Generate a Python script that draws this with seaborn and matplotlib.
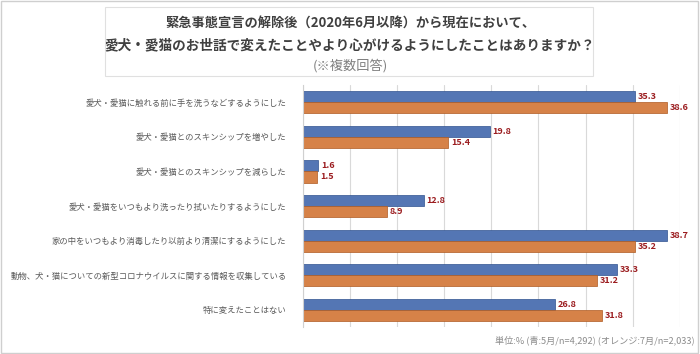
from matplotlib import pyplot as plt
from matplotlib.patches import Rectangle
import pandas as pd
import seaborn as sns

# data (percent)
items = ["愛犬・愛猫に触れる前に手を洗うなどするようにした",
         "愛犬・愛猫とのスキンシップを増やした",
         "愛犬・愛猫とのスキンシップを減らした",
         "愛犬・愛猫をいつもより洗ったり拭いたりするようにした",
         "家の中をいつもより消毒したり以前より清潔にするようにした",
         "動物、犬・猫についての新型コロナウイルスに関する情報を収集している",
         "特に変えたことはない"]
may = [35.3, 19.8, 1.6, 12.8, 38.7, 33.3, 26.8]
jul = [38.6, 15.4, 1.5, 8.9, 35.2, 31.2, 31.8]
months = ["5月", "7月"]

df = pd.DataFrame({"item": items * 2,
                   "value": may + jul,
                   "month": [months[0]] * len(items) + [months[1]] * len(items)})

sns.set_style("white")
plt.rcParams["font.family"] = ["Noto Sans CJK JP", "DejaVu Sans"]

blue = "#4472C4"
orange = "#ED7D31"

fig = plt.figure(figsize=(7, 3.54), dpi=100)
ax = fig.add_axes([0.433, 0.076, 0.538, 0.684])

sns.barplot(data=df, x="value", y="item", hue="month", orient="h",
            palette=[blue, orange], width=0.64, ax=ax, legend=False,
            edgecolor="none")

# slight darker edge to hint at the 3D look of the original
for cont, edge in zip(ax.containers, ["#2F528F", "#AE5A21"]):
    for bar in cont:
        bar.set_edgecolor(edge)
        bar.set_linewidth(0.5)
    ax.bar_label(cont, fmt="%.1f", padding=2, color="#9B1C1F",
                 fontsize=6.5, fontweight="bold")

ax.set_xlim(0, 40)
ax.set_xticks(range(0, 41, 5))
ax.set_xticklabels([])
ax.tick_params(axis="both", length=0)
ax.xaxis.grid(True, color="#d9d9d9", linewidth=0.8)
ax.set_axisbelow(True)
ax.set_xlabel("")
ax.set_ylabel("")
for s in ["top", "right", "bottom"]:
    ax.spines[s].set_visible(False)
ax.spines["left"].set_color("#d0d0d0")
ax.tick_params(axis="y", labelsize=6.0, labelcolor="#595959", pad=12)

# title box
fig.patches.append(Rectangle((105 / 700, 1 - 76 / 354), 488 / 700, 69 / 354,
                             transform=fig.transFigure, facecolor="white",
                             edgecolor="#e0e0e0", linewidth=0.8))
fig.text(0.5, 1 - 23 / 354, "緊急事態宣言の解除後（2020年6月以降）から現在において、",
         ha="center", va="center", fontsize=9.5, fontweight="bold", color="#404040")
fig.text(0.5, 1 - 45 / 354, "愛犬・愛猫のお世話で変えたことやより心がけるようにしたことはありますか？",
         ha="center", va="center", fontsize=9.8, fontweight="bold", color="#404040")
fig.text(0.5, 1 - 66 / 354, "(※複数回答)",
         ha="center", va="center", fontsize=9.5, color="#7f7f7f")

fig.text(695 / 700, 1 - 340 / 354, "単位:% (青:5月/n=4,292) (オレンジ:7月/n=2,033)",
         ha="right", va="center", fontsize=6.6, color="#8c8c8c")

# outer frame
fig.patches.append(Rectangle((0.002, 0.003), 0.995, 0.994, transform=fig.transFigure,
                             facecolor="none", edgecolor="#cfcfcf", linewidth=1))

fig.savefig("out.png", dpi=100)
